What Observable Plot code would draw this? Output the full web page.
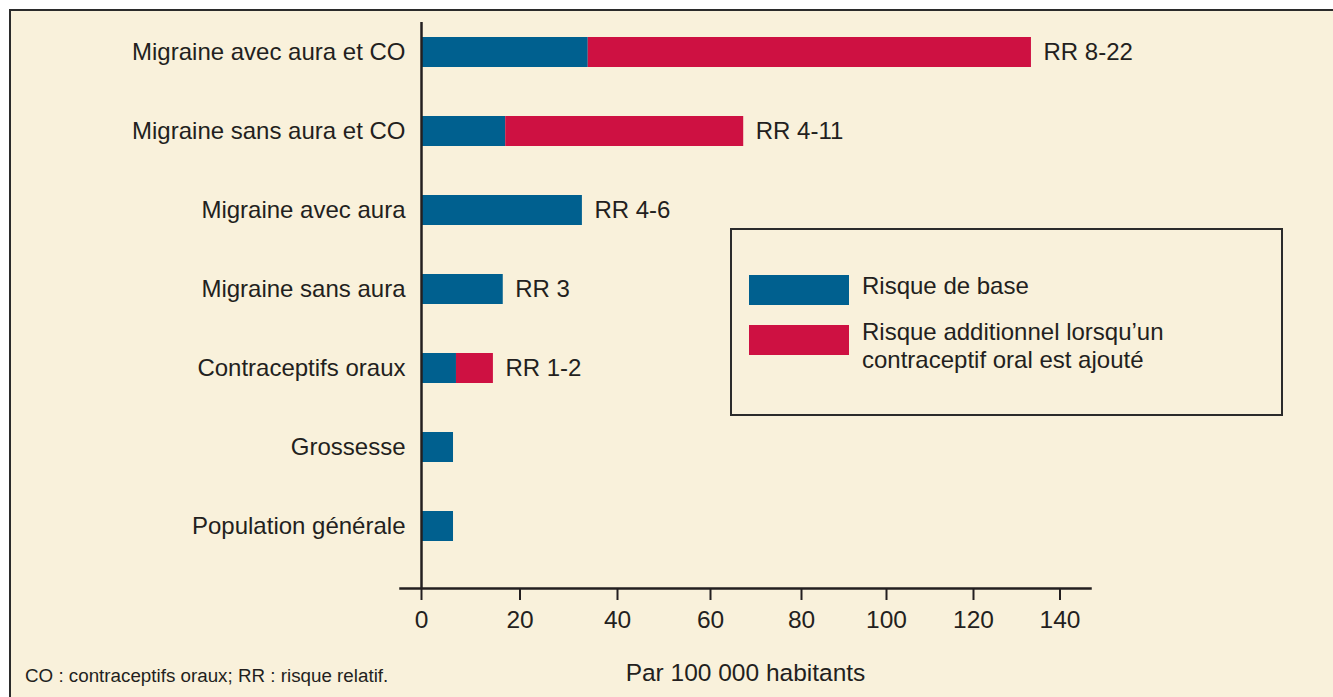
<!DOCTYPE html>
<html>
<head>
<meta charset="utf-8">
<script src="https://cdn.jsdelivr.net/npm/d3@7"></script>
<script src="https://cdn.jsdelivr.net/npm/@observablehq/plot@0.6"></script>
<style>
  html, body { margin: 0; padding: 0; background: #ffffff; overflow: hidden; width: 1333px; height: 697px; }
  body { position: relative; font-family: "Liberation Sans", Arial, Helvetica, sans-serif; color: #231f20; }
  #panel { position: absolute; left: 9px; top: 9px; width: 1400px; height: 800px; background: #F9F1DB; border-top: 2.5px solid #2b2b2b; border-left: 2.5px solid #2b2b2b; }
  #chart { position: absolute; left: 0; top: 0; }
  #legend { position: absolute; left: 730px; top: 228px; width: 553px; height: 188px; box-sizing: border-box; border: 2.5px solid #2b2b2b; }
  .sw { position: absolute; left: 17px; width: 100px; height: 30px; }
  .lt { position: absolute; left: 130px; font-size: 24px; line-height: 28px; white-space: nowrap; }
  #note { position: absolute; left: 25px; top: 665px; font-size: 18.8px; line-height: 22px; white-space: nowrap; }
</style>
</head>
<body>
<div id="panel"></div>
<div id="chart"></div>
<div id="legend"></div>
<div id="note"></div>
<script>
// ---- data ----
const categories = [
  "Migraine avec aura et CO",
  "Migraine sans aura et CO",
  "Migraine avec aura",
  "Migraine sans aura",
  "Contraceptifs oraux",
  "Grossesse",
  "Population générale"
];
const baseRisk  = [34, 17.1, 32.8, 16.6, 7.1, 6.5, 6.5];
const addedRisk = [99.4, 50.2, 0, 0, 7.5, 0, 0];
const rrLabels  = ["RR 8-22", "RR 4-11", "RR 4-6", "RR 3", "RR 1-2", "", ""];
const xTicks    = [0, 20, 40, 60, 80, 100, 120, 140];
const seriesNames  = ["Risque de base", "Risque additionnel lorsqu’un contraceptif oral est ajouté"];
const seriesColors = ["#00608F", "#CE1142"];
const xLabel   = "Par 100 000 habitants";
const footnote = "CO : contraceptifs oraux; RR : risque relatif.";

// ---- tables ----
const table = categories.flatMap((c, i) => [
  {cat: c, series: seriesNames[0], value: baseRisk[i]},
  {cat: c, series: seriesNames[1], value: addedRisk[i]}
]);
const rr = categories
  .map((c, i) => ({cat: c, total: baseRisk[i] + addedRisk[i], rr: rrLabels[i]}))
  .filter(d => d.rr);

const ink = "#231f20";

const chart = Plot.plot({
  width: 1333,
  height: 697,
  marginLeft: 400,
  marginRight: 243,
  marginTop: 22,
  marginBottom: 109,
  style: {background: "transparent", fontFamily: "'Liberation Sans', Arial, Helvetica, sans-serif", fontSize: "24px", color: ink},
  x: {type: "linear", domain: xTicks, range: [421, 519.5, 617, 710, 801, 886, 973, 1059.5]},
  y: {domain: categories, axis: null, insetTop: 4, insetBottom: 36, paddingInner: 0.623, paddingOuter: 0.1155},
  color: {domain: seriesNames, range: seriesColors},
  marks: [
    Plot.barX(table, {x: "value", y: "cat", fill: "series"}),
    Plot.text(rr, {x: "total", y: "cat", text: "rr", dx: 12, textAnchor: "start", fontSize: 24, fill: ink}),
    Plot.text(categories, {y: d => d, frameAnchor: "left", textAnchor: "end", dx: 5, fontSize: 24, fill: ink}),
    Plot.frame({anchor: "bottom", stroke: ink, strokeWidth: 2.5}),
    Plot.ruleX([0], {stroke: ink, strokeWidth: 2.5}),
    Plot.axisX({
      ticks: xTicks, tickSize: 12, tickPadding: 10, strokeWidth: 2, stroke: ink, fill: ink,
      fontSize: 24.5, tickFormat: d => String(d),
      label: xLabel, labelAnchor: "center", labelOffset: 92, labelArrow: "none"
    })
  ]
});
document.getElementById("chart").appendChild(chart);

// ---- legend ----
const legend = document.getElementById("legend");
const swTops = [45, 95];
const txtTops = [[42], [88, 116]];
seriesNames.forEach((name, i) => {
  const sw = document.createElement("div");
  sw.className = "sw";
  sw.style.top = swTops[i] + "px";
  sw.style.background = seriesColors[i];
  legend.appendChild(sw);
});
const legendLines = [["Risque de base"], ["Risque additionnel lorsqu’un", "contraceptif oral est ajouté"]];
legendLines.forEach((lines, i) => {
  lines.forEach((t, j) => {
    const el = document.createElement("div");
    el.className = "lt";
    el.style.top = txtTops[i][j] + "px";
    el.textContent = t;
    legend.appendChild(el);
  });
});
document.getElementById("note").textContent = footnote;
</script>
</body>
</html>
